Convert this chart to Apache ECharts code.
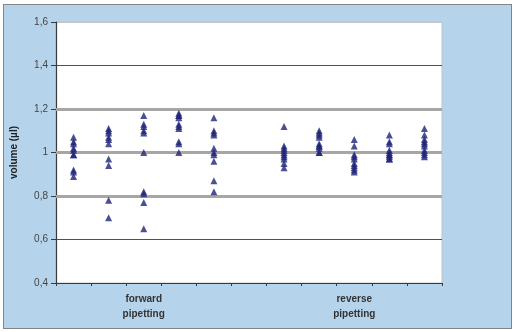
<!DOCTYPE html>
<html>
<head>
<meta charset="utf-8">
<script src="https://cdn.jsdelivr.net/npm/echarts@6/dist/echarts.min.js"></script>
<style>
  html, body { margin: 0; padding: 0; background: #ffffff; }
  #frame { position: absolute; left: 3px; top: 4px; width: 507px; height: 323px;
           background: #b5d4eb; border: 1.5px solid #858585; }
  #chart { position: absolute; left: 0; top: 0; width: 514px; height: 332px; }
</style>
</head>
<body>
<div id="frame"></div>
<div id="chart"></div>
<script>
// x categories (index 5 is the empty gap between the two groups)
var xLabels = ['', '', 'forward\npipetting', '', '', '', '', '', 'reverse\npipetting', '', ''];
var yTickLabels = ['0,4', '0,6', '0,8', '1', '1,2', '1,4', '1,6'];
var yName = 'volume (µl)';

// forward pipetting, five series of measurements (µl)
var forward1 = [1.07, 1.05, 1.04, 1.02, 1.01, 0.99, 0.99, 0.92, 0.91, 0.89];
var forward2 = [1.11, 1.10, 1.09, 1.07, 1.06, 1.04, 0.97, 0.94, 0.78, 0.70];
var forward3 = [1.17, 1.13, 1.12, 1.10, 1.09, 1.00, 0.82, 0.81, 0.77, 0.65];
var forward4 = [1.18, 1.17, 1.17, 1.16, 1.13, 1.12, 1.11, 1.05, 1.04, 1.00];
var forward5 = [1.16, 1.10, 1.09, 1.08, 1.02, 1.00, 0.99, 0.96, 0.87, 0.82];
// reverse pipetting
var reverse1 = [1.12, 1.03, 1.02, 1.01, 1.00, 0.99, 0.98, 0.97, 0.95, 0.93];
var reverse2 = [1.10, 1.09, 1.08, 1.07, 1.04, 1.03, 1.03, 1.02, 1.00, 1.00];
var reverse3 = [1.06, 1.03, 0.99, 0.98, 0.97, 0.95, 0.94, 0.93, 0.92, 0.91];
var reverse4 = [1.08, 1.05, 1.04, 1.01, 1.00, 0.99, 0.99, 0.98, 0.97, 0.97];
var reverse5 = [1.11, 1.08, 1.06, 1.05, 1.04, 1.03, 1.01, 1.00, 0.99, 0.98];

var columns = [forward1, forward2, forward3, forward4, forward5, [],
               reverse1, reverse2, reverse3, reverse4, reverse5];
var points = [];
columns.forEach(function (col, i) {
  col.forEach(function (v) { points.push([i, v]); });
});

var chart = echarts.init(document.getElementById('chart'), null, { renderer: 'canvas' });
chart.setOption({
  animation: false,
  backgroundColor: 'transparent',
  textStyle: { fontFamily: 'Liberation Sans, Arial, sans-serif' },
  grid: { left: 56, top: 22, width: 386, height: 261, show: true,
          backgroundColor: '#ffffff', borderColor: '#c4c4c4', borderWidth: 1 },
  xAxis: {
    type: 'category',
    data: xLabels,
    boundaryGap: true,
    axisLine: { lineStyle: { color: '#3a3a3a', width: 1.2 } },
    axisTick: { show: true, length: 3, inside: false, interval: 0, lineStyle: { color: '#3a3a3a' } },
    axisLabel: { interval: 0, color: '#333', fontSize: 10, fontWeight: 'bold',
                 lineHeight: 15, margin: 9 },
    splitLine: { show: false }
  },
  yAxis: {
    type: 'value',
    min: 0.4, max: 1.6, interval: 0.2,
    name: yName,
    nameLocation: 'middle',
    nameGap: 37,
    nameRotate: 90,
    nameTextStyle: { color: '#222', fontSize: 10, fontWeight: 'bold' },
    axisLine: { show: true, lineStyle: { color: '#3a3a3a', width: 1.2 } },
    axisTick: { show: true, length: 5, lineStyle: { color: '#3a3a3a' } },
    axisLabel: {
      color: '#444', fontSize: 10, margin: 8,
      formatter: function (v) {
        var idx = Math.round((v - 0.4) / 0.2);
        return yTickLabels[idx];
      }
    },
    splitLine: { show: true, lineStyle: {
      color: ['transparent', '#505050', '#a8a6a4', '#a8a6a4', '#a8a6a4', '#505050', '#c4c4c4'],
      width: 1 } }
  },
  series: [
    {
      type: 'scatter',
      data: [],
      z: 1,
      silent: true,
      markLine: {
        silent: true,
        symbol: 'none',
        label: { show: false },
        lineStyle: { color: '#a8a6a4', width: 3, type: 'solid' },
        data: [{ yAxis: 0.8 }, { yAxis: 1.0 }, { yAxis: 1.2 }]
      }
    },
    {
      type: 'scatter',
      data: points,
      z: 5,
      symbol: 'triangle',
      symbolSize: 7,
      itemStyle: { color: '#1f2478' },
      emphasis: { disabled: true }
    }
  ]
});
</script>
</body>
</html>
